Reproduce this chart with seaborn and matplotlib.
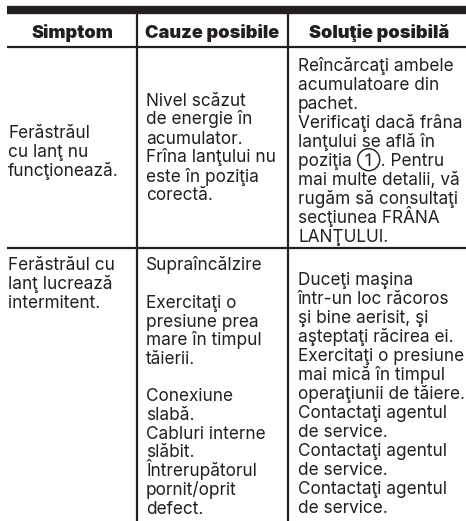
import matplotlib.pyplot as plt
import seaborn as sns

# table content
headers = ["Simptom", "Cauze posibile", "Soluţie posibilă"]
symptoms = [
    "Ferăstrăul\ncu lanţ nu\nfuncţionează.",
    "Ferăstrăul cu\nlanţ lucrează\nintermitent.",
]
causes = [
    "Nivel scăzut\nde energie în\nacumulator.\nFrîna lanţului nu\neste în poziţia\ncorectă.",
    "Supraîncălzire\n\nExercitaţi o\npresiune prea\nmare în timpul\ntăierii.\n\nConexiune\nslabă.\nCabluri interne\nslăbit.\nÎntrerupătorul\npornit/oprit\ndefect.",
]
solutions = [
    "Reîncărcaţi ambele\nacumulatoare din\npachet.\nVerificaţi dacă frâna\nlanţului se află în\npoziţia ①. Pentru\nmai multe detalii, vă\nrugăm să consultaţi\nsecţiunea FRÂNA\nLANŢULUI.",
    "Duceţi maşina\nîntr-un loc răcoros\nşi bine aerisit, şi\naşteptaţi răcirea ei.\nExercitaţi o presiune\nmai mică în timpul\noperaţiunii de tăiere.\nContactaţi agentul\nde service.\nContactaţi agentul\nde service.\nContactaţi agentul\nde service.",
]

sns.set_theme(style="white")
plt.rcParams['font.family'] = ['Inter', 'DejaVu Sans']

ink = "#231f20"
W, H = 466, 521
fig = plt.figure(figsize=(W / 100, H / 100), dpi=100)
ax = fig.add_axes([0, 0, 1, 1])
ax.set_xlim(0, W)
ax.set_ylim(H, 0)
ax.axis("off")

# grid
col_x = [7, 137, 288, W]
ax.hlines(10, col_x[0], W, color=ink, lw=6)
ax.hlines([47, 248], col_x[0], W, color=ink, lw=1.6)
ax.vlines(col_x[1:3], 14, H, color=ink, lw=1.6)

# header
for i, h in enumerate(headers):
    ax.text((col_x[i] + col_x[i + 1]) / 2 + (2 if i == 2 else 0), 33, h,
            ha="center", va="center", fontsize=13.1, color=ink,
            family=["Inter", "DejaVu Sans"], fontweight="black")

# body cells, one text per line so that accents do not stretch the spacing
step = 19


def cell(x, y_mid, txt, dy=step):
    lines = txt.split("\n")
    y0 = y_mid - (len(lines) - 1) / 2 * dy
    for k, s in enumerate(lines):
        ax.text(x, y0 + k * dy + 5, s, ha="left", va="baseline",
                fontsize=12.4, color=ink)


text_x = [8, 146, 298]
cell(text_x[0], 152, symptoms[0])
cell(text_x[1], 148, causes[0])
cell(text_x[2], 151.5, solutions[0])
cell(text_x[0], 284, symptoms[1])
cell(text_x[1], 387, causes[1], dy=18.7)
cell(text_x[2], 394, solutions[1])

plt.savefig("out.png", dpi=100)
